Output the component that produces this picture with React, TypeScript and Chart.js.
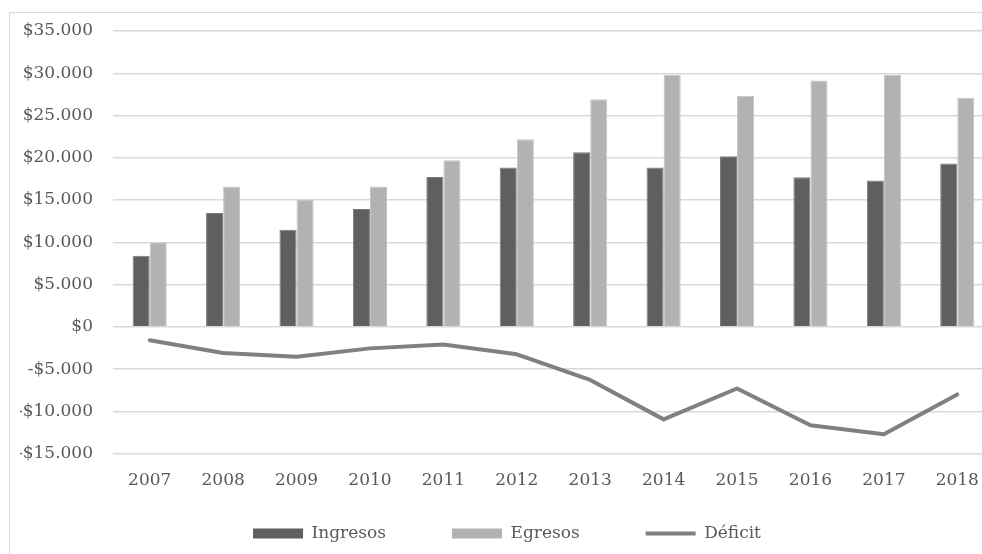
import React, { useEffect, useRef } from "react";
import { Chart, registerables } from "chart.js";

Chart.register(...registerables);

const years = ["2007", "2008", "2009", "2010", "2011", "2012", "2013", "2014", "2015", "2016", "2017", "2018"];
const ingresos = [8400, 13470, 11490, 13950, 17740, 18840, 20650, 18840, 20180, 17690, 17300, 19310];
const egresos = [10000, 16590, 15010, 16590, 19700, 22190, 26930, 29820, 27330, 29150, 29820, 27100];
const deficit = [-1580, -3100, -3550, -2550, -2080, -3250, -6280, -10950, -7300, -11650, -12700, -8000];
const seriesNames = ["Ingresos", "Egresos", "Déficit"];
const yMin = -15000;
const yMax = 35000;
const yStep = 5000;

const FONT = "'DejaVu Serif', serif";
const TEXT = "#595959";

function money(v: number): string {
  const abs = Math.abs(v);
  const s = String(abs).replace(/\B(?=(\d{3})+(?!\d))/g, ".");
  return (v < 0 ? "-" : "") + "$" + s;
}

const legendLift = {
  id: "legendLift",
  afterLayout(chart: any) {
    const l = chart.legend;
    if (l) {
      l.top -= 49;
      l.bottom -= 49;
    }
  },
};

export default function App() {
  const ref = useRef<HTMLCanvasElement | null>(null);

  useEffect(() => {
    if (!ref.current) return;
    const chart = new Chart(ref.current, {
      type: "bar",
      data: {
        labels: years,
        datasets: [
          {
            type: "bar",
            label: seriesNames[0],
            data: ingresos,
            backgroundColor: "#5f5f5f",
            borderColor: "#7a7a7a",
            borderWidth: 1,
            categoryPercentage: 0.465,
            barPercentage: 1,
          },
          {
            type: "bar",
            label: seriesNames[1],
            data: egresos,
            backgroundColor: "#b2b2b2",
            borderColor: "#c4c4c4",
            borderWidth: 1,
            categoryPercentage: 0.465,
            barPercentage: 1,
          },
          {
            type: "line",
            label: seriesNames[2],
            data: deficit,
            borderColor: "#808080",
            backgroundColor: "#808080",
            borderWidth: 4,
            pointRadius: 0,
            tension: 0,
            borderJoinStyle: "round",
            borderCapStyle: "round",
          },
        ],
      },
      plugins: [legendLift],
      options: {
        responsive: false,
        animation: false,
        devicePixelRatio: 1,
        layout: { padding: { top: 18, left: 10, right: 12, bottom: 0 } },
        plugins: {
          tooltip: { enabled: false },
          legend: {
            position: "bottom",
            labels: {
              usePointStyle: true,
              pointStyleWidth: 50,
              boxHeight: 10,
              padding: 66,
              color: TEXT,
              font: { family: FONT, size: 17 },
              generateLabels: (c: any) => {
                const items = (Chart as any).defaults.plugins.legend.labels.generateLabels(c);
                return items.map((it: any, i: number) => ({
                  ...it,
                  pointStyle: i === 2 ? "line" : "rect",
                  lineWidth: i === 2 ? 4 : 0,
                }));
              },
            },
          },
        },
        scales: {
          x: {
            grid: { display: false, drawTicks: false },
            border: { display: false },
            ticks: {
              color: TEXT,
              font: { family: FONT, size: 17 },
              padding: 17,
              maxRotation: 0,
            },
          },
          y: {
            min: yMin,
            max: yMax,
            grid: { color: "#d9d9d9", lineWidth: 1.5, drawTicks: true, tickLength: 20, tickColor: "rgba(0,0,0,0)" },
            border: { display: false },
            ticks: {
              stepSize: yStep,
              color: TEXT,
              font: { family: FONT, size: 17 },
              padding: 0,
              callback: (v: any) => money(Number(v)),
            },
            afterFit: (s: any) => {
              s.width = 93;
            },
          },
        },
      },
    });
    return () => chart.destroy();
  }, []);

  return (
    <div style={{ position: "fixed", left: 0, top: 0, width: 982, height: 554, overflow: "hidden", background: "#fff" }}>
      <div
        style={{
          position: "absolute",
          left: 9,
          top: 12,
          width: 996,
          height: 620,
          borderTop: "1px solid #d9d9d9",
          borderLeft: "1px solid #d9d9d9",
          background: "#fff",
        }}
      >
        <canvas ref={ref} width={996} height={588} style={{ display: "block", width: 996, height: 588 }} />
      </div>
    </div>
  );
}
